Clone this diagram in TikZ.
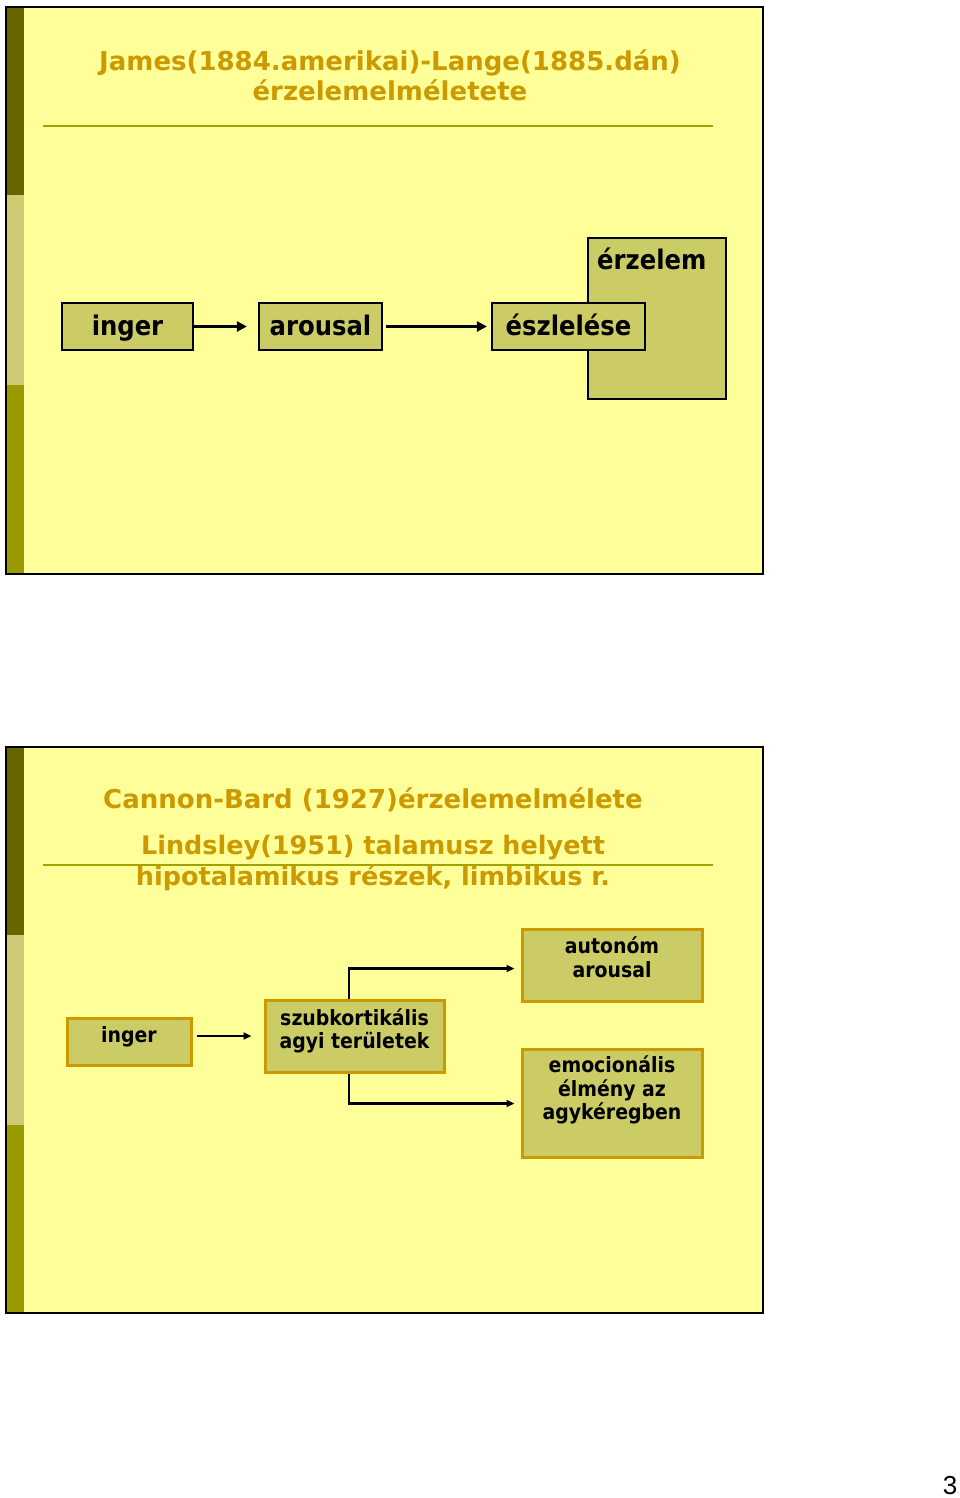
\documentclass[tikz,border=0pt]{standalone}
\usepackage{fontspec}
\setmainfont{DejaVu Sans}
\newfontfamily\boxfont{DejaVu Sans Condensed}
\newfontfamily\numfont{Liberation Sans}
\usetikzlibrary{arrows.meta,calc}
\definecolor{slidebg}{HTML}{FFFF99}
\definecolor{stripedark}{HTML}{666600}
\definecolor{stripelight}{HTML}{CCCC77}
\definecolor{stripemid}{HTML}{999900}
\definecolor{titlegold}{HTML}{CC9900}
\definecolor{rulecol}{HTML}{A3A300}
\definecolor{boxfill}{HTML}{CCCC66}
\begin{document}
\begin{tikzpicture}[x=1pt,y=-1pt,
  titletext/.style={text=titlegold,font=\bfseries\fontsize{26}{30}\selectfont,align=center,inner sep=0pt},
  boxA/.style={draw=black,line width=2.2pt,fill=boxfill,inner sep=0pt,text height=24pt,text depth=6pt,font=\boxfont\bfseries\fontsize{27}{30}\selectfont},
  boxB/.style={draw=titlegold,line width=3pt,fill=boxfill,inner sep=0pt,align=center,font=\boxfont\bfseries\fontsize{21}{23}\selectfont},
  boxBtext/.style={font=\boxfont\bfseries\fontsize{21}{23.5}\selectfont,align=center,inner sep=0pt},
  arr/.style={-{Triangle[length=10pt,width=10pt]},line width=2.6pt},
  arrB/.style={-{Triangle[length=8pt,width=7pt]},line width=2.2pt},
  slideframe/.style={draw=black,line width=1.8pt}]
\useasboundingbox (0,0) rectangle (960,1498);
\fill[white] (0,0) rectangle (960,1498);
% ---------- slide 1 ----------
\fill[slidebg] (6,7) rectangle (763,574);
\fill[stripedark] (6,7) rectangle (24,195);
\fill[stripelight] (6,195) rectangle (24,385);
\fill[stripemid] (6,385) rectangle (24,574);
\draw[slideframe] (6,7) rectangle (763,574);
\node[titletext] (t1) at (390,75) {James(1884.amerikai)-Lange(1885.dán)\\érzelemelméletete};
\draw[rulecol,line width=1.2pt] (43,126) -- (713,126);
\node[boxA,minimum width=131pt,minimum height=47pt] (inger1) at (127.5,326.5) {inger};
\node[boxA,minimum width=123pt,minimum height=47pt] (arousal1) at (320.5,326.5) {arousal};
\node[boxA,minimum width=138pt,minimum height=161pt,anchor=north west] (erzelem) at (587,237) {};
\node[font=\boxfont\bfseries\fontsize{27}{30}\selectfont,anchor=west,inner sep=0pt] (erzelemtxt) at (597,259) {érzelem};
\node[boxA,minimum width=153pt,minimum height=47pt] (eszleles) at (568.5,326.5) {észlelése};
\draw[arr,shorten >=11pt] (inger1.east) -- (arousal1.west);
\draw[arr,shorten <=3pt,shorten >=4pt] (arousal1.east) -- (eszleles.west);
% ---------- slide 2 ----------
\fill[slidebg] (6,747) rectangle (763,1313);
\fill[stripedark] (6,747) rectangle (24,935);
\fill[stripelight] (6,935) rectangle (24,1125);
\fill[stripemid] (6,1125) rectangle (24,1313);
\draw[slideframe] (6,747) rectangle (763,1313);
\draw[rulecol,line width=1.2pt] (43,865) -- (713,865);
\node[titletext] (t2) at (373,800) {Cannon-Bard (1927)érzelemelmélete};
\node[titletext,font=\bfseries\fontsize{25.5}{31}\selectfont] (t3) at (373,863) {Lindsley(1951) talamusz helyett\\hipotalamikus részek, limbikus r.};
\node[boxB,minimum width=124pt,minimum height=47pt] (inger2) at (129,1041.5) {};
\node[boxBtext] (inger2txt) at (129,1037) {inger};
\node[boxB,minimum width=179pt,minimum height=72pt] (szub) at (354.5,1036) {};
\node[boxBtext] (szubtxt) at (354.5,1031) {szubkortikális\\agyi területek};
\node[boxB,minimum width=180pt,minimum height=72pt,anchor=north] (auto) at (612,928) {};
\node[boxBtext] (autotxt) at (612,957) {autonóm\\arousal};
\node[boxB,minimum width=180pt,minimum height=108pt,anchor=north] (emo) at (612,1048) {};
\node[boxBtext] (emotxt) at (612,1090) {emocionális\\élmény az\\agykéregben};
\draw[arrB,shorten <=4pt,shorten >=12pt] (inger2.east |- szub.west) -- (szub.west);
\coordinate (upturn) at ($(szub.north)+(-5.5,-30)$);
\coordinate (downturn) at ($(szub.south)+(-5.5,30)$);
\draw[arrB,shorten >=6pt] ($(szub.north)+(-5.5,0)$) -- (upturn) -- (upturn -| auto.west);
\draw[arrB,shorten >=6pt] ($(szub.south)+(-5.5,0)$) -- (downturn) -- (downturn -| emo.west);
% page number
\node[font=\numfont\fontsize{26}{30}\selectfont,inner sep=0pt] (pnum) at (950,1486) {3};
\end{tikzpicture}
\end{document}
